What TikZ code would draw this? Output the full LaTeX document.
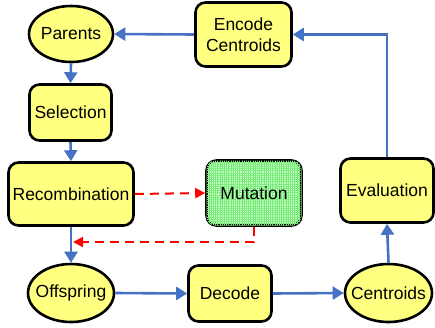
\documentclass[tikz,border=0pt]{standalone}
\usepackage{fontspec}
\setmainfont{Liberation Sans}
\usetikzlibrary{arrows.meta,patterns.meta,shapes.geometric,calc}
\definecolor{boxyellow}{RGB}{255,255,128}
\definecolor{arrowblue}{RGB}{70,114,196}
\definecolor{mutgreen}{RGB}{200,255,200}
\definecolor{gridgreen}{RGB}{120,235,120}
\begin{document}
\begin{tikzpicture}[x=1pt,y=-1pt,
  every node/.style={font=\fontsize{17.5}{21}\selectfont, align=center, inner sep=0pt},
  rbox/.style={draw=black, line width=2.6pt, rounded corners=10pt, fill=boxyellow},
  oval/.style={draw=black, line width=2.6pt, ellipse, fill=boxyellow, inner xsep=-20pt, inner ysep=-10pt},
  flow/.style={draw=arrowblue, line width=2.6pt, -{Triangle[length=11pt,width=13pt]}},
  mutflow/.style={draw=red, line width=2pt, dash pattern=on 9pt off 6pt, -{Triangle[length=10pt,width=10pt]}}
]
\useasboundingbox (0,0) rectangle (435,327);
\node[oval, minimum width=84pt, minimum height=56pt] (par) at (71,34) {Parents};
\node[rbox, minimum width=96pt, minimum height=64pt] (enc) at (243.5,34.5) {Encode\\Centroids};
\node[rbox, minimum width=82pt, minimum height=56pt] (sel) at (70.5,112.5) {Selection};
\node[rbox, minimum width=125pt, minimum height=63pt] (rec) at (71,194) {Recombination};
\node[rbox, fill=mutgreen, minimum width=95pt, minimum height=65pt] (mut) at (254,193) {};
\path[pattern={Hatch[angle=0,distance=2.2pt,line width=0.7pt]}, pattern color=gridgreen, rounded corners=9pt]
  ($(mut.south west)+(1.3,-1.3)$) rectangle ($(mut.north east)+(-1.3,1.3)$);
\node[font=\fontsize{17.5}{21}\selectfont] (mutlbl) at (mut.center) {Mutation};
\node[rbox, minimum width=93pt, minimum height=64pt] (eva) at (387,190.5) {Evaluation};
\node[oval, minimum width=86pt, minimum height=58pt] (off) at (71,293) {Offspring};
\node[rbox, minimum width=83pt, minimum height=56pt] (dec) at (230,293.5) {Decode};
\node[oval, minimum width=87pt, minimum height=58pt] (cen) at (388.5,293) {Centroids};
\coordinate (rin) at (73,242);
\draw[flow] (enc.west) -- (par.east);
\draw[flow] (eva.north) |- (enc.east);
\draw[flow] (par.south) -- (sel.north);
\draw[flow] (sel.south) -- (rec.north);
\draw[flow] (rec.south) -- (off.north);
\draw[flow] (off.east) -- (dec.west);
\draw[flow] (dec.east) -- (cen.west);
\draw[flow] (cen.north) -- (eva.south);
\draw[mutflow] (rec.east) -- (mut.west);
\draw[mutflow] (mut.south) |- (rin);
\end{tikzpicture}
\end{document}
